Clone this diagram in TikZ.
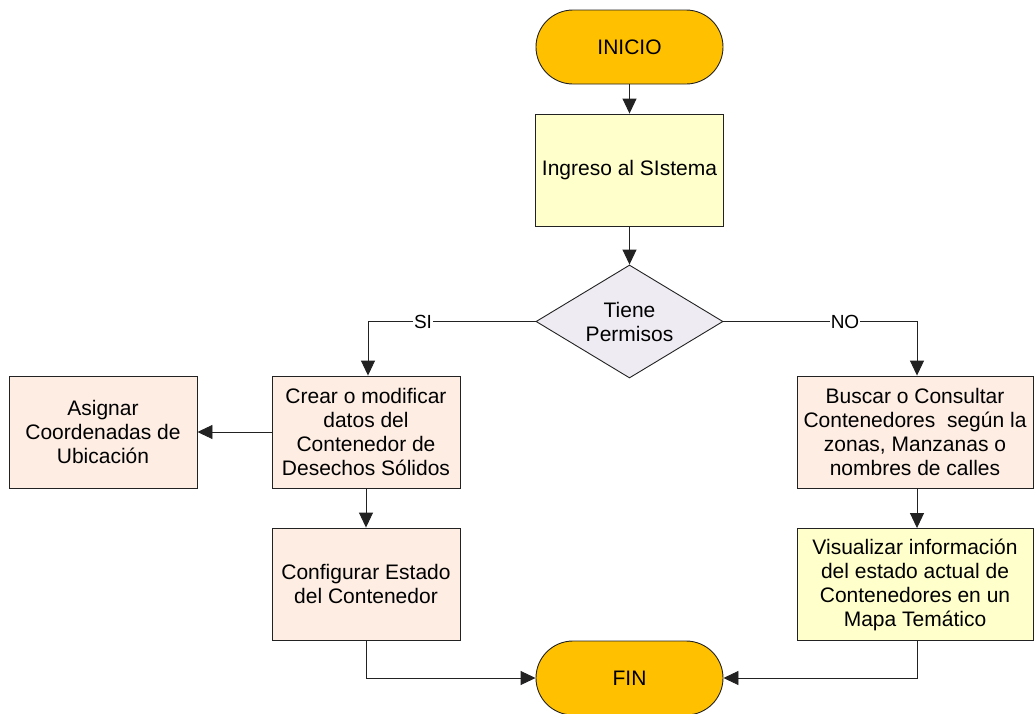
\documentclass[tikz,border=0pt]{standalone}
\usepackage{fontspec}
\setmainfont{Liberation Sans}
\usetikzlibrary{shapes.geometric,arrows.meta}
\definecolor{termfill}{HTML}{FFC000}
\definecolor{procfill}{HTML}{FDEDE3}
\definecolor{notefill}{HTML}{FFFFCC}
\definecolor{decfill}{HTML}{EEEBF2}
\definecolor{edge}{HTML}{222222}
\tikzset{
  x=1pt, y=-1pt,
  base/.style={draw=edge, line width=0.9pt, align=center, inner sep=0pt,
    font=\fontsize{21}{24}\selectfont, text=black},
  terminal/.style={base, fill=termfill, rounded corners=37pt,
    minimum width=187pt, minimum height=74pt},
  procbox/.style={base, fill=procfill, minimum width=188pt, minimum height=112pt},
  notebox/.style={base, fill=notefill, minimum width=188pt, minimum height=112pt},
  decision/.style={base, fill=decfill, diamond, aspect=1.65,
    minimum width=187pt, minimum height=113pt},
  flow/.style={draw=edge, line width=0.9pt, -{Triangle[length=15pt,width=14pt]}},
  lbl/.style={fill=white, inner sep=1pt, font=\fontsize{19}{22}\selectfont}
}
\begin{document}
\begin{tikzpicture}
\useasboundingbox (0,0) rectangle (1034,713);
\fill[white] (0,0) rectangle (1034,713);

\node[terminal] (inicio) at (629.5,47) {INICIO};
\node[notebox] (ingreso) at (629.5,170) {Ingreso al SIstema};
\node[decision] (perm) at (629.5,321.5) {Tiene\\Permisos};
\node[procbox] (crear) at (366,432) {Crear o modificar\\datos del\\Contenedor de\\Desechos Sólidos};
\node[procbox] (asignar) at (103,432) {Asignar\\Coordenadas de\\Ubicación};
\node[procbox] (config) at (366,584) {Configurar Estado\\del Contenedor};
\node[procbox, minimum width=236pt] (buscar) at (915,432) {Buscar o Consultar\\Contenedores\ \ según la\\zonas, Manzanas o\\nombres de calles};
\node[notebox, minimum width=236pt] (visual) at (915,584.5) {Visualizar información\\del estado actual de\\Contenedores en un\\Mapa Temático};
\node[terminal] (fin) at (629.5,678) {FIN};

\coordinate (siTurn) at (368,321.5);
\coordinate (noTurn) at (917,321.5);

\draw[flow] (inicio) -- (ingreso);
\draw[flow] (ingreso) -- (perm);
\draw[flow] (perm.west) -- (siTurn) -- (crear.north -| siTurn);
\draw[flow] (perm.east) -- (noTurn) -- (buscar.north -| noTurn);
\node[lbl] at (423,322) {SI};
\node[lbl] at (845,322) {NO};
\draw[flow] (crear.west) -- (asignar.east);
\draw[flow] (crear) -- (config);
\draw[flow] (buscar.south -| noTurn) -- (visual.north -| noTurn);
\draw[flow] (config.south) |- (fin.west);
\draw[flow] (visual.south -| noTurn) |- (fin.east);
\end{tikzpicture}
\end{document}
